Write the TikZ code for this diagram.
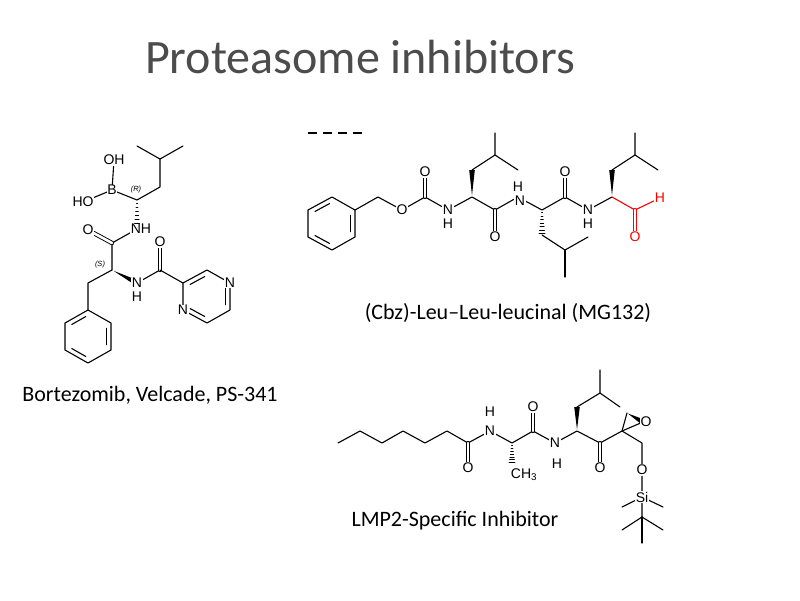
\documentclass[tikz,border=0pt]{standalone}
\usepackage{fontspec}
\setmainfont{Carlito}
\newfontfamily\arl{Liberation Sans}
\usetikzlibrary{calc}
\tikzset{
  bd/.style={line width=1.1pt, line cap=round, line join=round},
  db/.style={draw=black, double=white, double distance=2.6pt, line width=0.9pt},
  atm/.style={fill=white, inner sep=0.6pt, font=\arl\fontsize{14}{14}\selectfont},
  small/.style={inner sep=0pt, font=\arl\itshape\fontsize{7.5}{7.5}\selectfont},
  lab/.style={font=\fontsize{22}{24}\selectfont},
}
\newcommand\wdg[2]{\fill ($(#1)!0.06!(#2)$) -- ($(#2)!2.8pt!90:(#1)$) -- ($(#2)!2.8pt!-90:(#1)$) -- cycle;}
\newcommand\hsh[2]{\foreach \t in {0.1,0.24,...,0.95}{\pgfmathsetmacro\w{0.3+\t*2.8}
  \path coordinate (hp) at ($(#1)!\t!(#2)$);
  \draw[line width=0.7pt] ($(hp)!\w pt!90:(#2)$) -- ($(hp)!\w pt!-90:(#2)$);}}
\newcommand\inb[3]{\draw ($($(#1)!0.2!(#3)$)!0.12!($(#2)!0.2!(#3)$)$) -- ($($(#2)!0.2!(#3)$)!0.12!($(#1)!0.2!(#3)$)$);}
\begin{document}
\begin{tikzpicture}[x=1pt,y=-1pt]
\fill[white] (0,0) rectangle (800,600);
\node[font=\fontsize{48}{50}\selectfont, text=black!70] (title) at (360,57) {Proteasome inhibitors};

% ---------- Bortezomib ----------
\begin{scope}[bd]
\coordinate (b1) at (137,146); \coordinate (b2) at (160,159); \coordinate (b3) at (183,146);
\coordinate (b4) at (160,187); \coordinate (CR) at (137,200); \coordinate (B) at (112,190);
\coordinate (OH1) at (114,160); \coordinate (OH2) at (83,202);
\coordinate (N1) at (137,229); \coordinate (C1) at (112,243); \coordinate (O1) at (88,230);
\coordinate (CS) at (112,270); \coordinate (N2) at (137,283); \coordinate (C2) at (160,270);
\coordinate (O2) at (160,242); \coordinate (CH2) at (88,283);
\draw (b1)--(b2)--(b3); \draw (b2)--(b4)--(CR)--(B);
\draw (B)--(OH1); \draw (B)--(OH2);
\hsh{CR}{N1}
\draw (N1)--(C1)--(CS); \draw[db] (C1)--(O1);
\wdg{CS}{N2}
\draw (N2)--(C2); \draw[db] (C2)--(O2);
\draw (CS)--(CH2)--(88,310);
% pyrazine
\coordinate (p1) at (183,283); \coordinate (p2) at (207,270); \coordinate (p3) at (230,283);
\coordinate (p4) at (230,310); \coordinate (p5) at (207,323); \coordinate (p6) at (183,310);
\coordinate (pc) at (207,296.5);
\draw (C2)--(p1);
\draw (p1)--(p2)--(p3)--(p4)--(p5)--(p6)--cycle;
\inb{p1}{p2}{pc} \inb{p3}{p4}{pc} \inb{p5}{p6}{pc}
% phenyl
\coordinate (h1) at (88,310); \coordinate (h2) at (111,323); \coordinate (h3) at (111,350);
\coordinate (h4) at (88,363); \coordinate (h5) at (65,350); \coordinate (h6) at (65,323);
\coordinate (hc) at (88,336.5);
\draw (h1)--(h2)--(h3)--(h4)--(h5)--(h6)--cycle;
\inb{h2}{h3}{hc} \inb{h4}{h5}{hc} \inb{h6}{h1}{hc}
\end{scope}
\node[atm] (lB) at (B) {B};
\node[atm] (lOH1) at (OH1) {OH};
\node[atm] (lOH2) at (OH2) {HO};
\node[atm] (lN1) at (141,229) {NH};
\node[atm] (lO1) at (O1) {O};
\node[atm] (lN2) at (N2) {N};
\node[atm, fill=none] (lH2) at (137,297) {H};
\node[atm] (lO2) at (O2) {O};
\node[atm] (lNp3) at (p3) {N};
\node[atm] (lNp6) at (p6) {N};
\node[small] (lR) at (136,190) {(R)};
\node[small] (lS) at (100,265) {(S)};
\node[lab] (nameB) at (150,395) {Bortezomib, Velcade, PS-341};

% ---------- MG132 ----------
\draw[line width=1.3pt, dash pattern=on 9pt off 6pt] (308,133)--(365,133);
\begin{scope}[bd]
\coordinate (m1) at (332,197); \coordinate (m2) at (355,210); \coordinate (m3) at (355,237);
\coordinate (m4) at (332,250); \coordinate (m5) at (308,237); \coordinate (m6) at (308,210);
\coordinate (mcc) at (331.5,223.5);
\draw (m1)--(m2)--(m3)--(m4)--(m5)--(m6)--cycle;
\inb{m2}{m3}{mcc} \inb{m4}{m5}{mcc} \inb{m6}{m1}{mcc}
\coordinate (mc) at (378,197); \coordinate (mO) at (402,210); \coordinate (mC1) at (425,197);
\coordinate (mO1) at (425,172); \coordinate (mN1) at (448,210); \coordinate (mA1) at (472,197);
\coordinate (mA1s) at (472,170); \coordinate (mA1b) at (495,155);
\coordinate (mC2) at (495,210); \coordinate (mO2) at (495,237); \coordinate (mN2) at (518,197);
\coordinate (mA2) at (542,210); \coordinate (mA2s) at (542,235); \coordinate (mA2b) at (565,250);
\coordinate (mC3) at (565,197); \coordinate (mO3) at (565,172); \coordinate (mN3) at (588,210);
\coordinate (mA3) at (612,197); \coordinate (mA3s) at (612,170); \coordinate (mA3b) at (635,155);
\coordinate (mC4) at (635,210); \coordinate (mO4) at (635,237); \coordinate (mH4) at (660,198);
\draw (m2)--(mc)--(mO)--(mC1)--(mN1)--(mA1)--(mC2)--(mN2)--(mA2)--(mC3)--(mN3)--(mA3);
\draw[db] (mC1)--(mO1); \draw[db] (mC2)--(mO2); \draw[db] (mC3)--(mO3);
\wdg{mA1}{mA1s} \draw (mA1s)--(mA1b)--(495,133); \draw (mA1b)--(518,170);
\hsh{mA2}{mA2s} \draw (mA2s)--(mA2b)--(588,237); \draw (mA2b)--(565,277);
\wdg{mA3}{mA3s} \draw (mA3s)--(mA3b)--(635,133); \draw (mA3b)--(658,170);
\draw[red] (mA3)--(mC4)--(mH4);
\draw[db, draw=red] (mC4)--(mO4);
\end{scope}
\node[atm] (lmO) at (mO) {O};
\node[atm] (lmO1) at (mO1) {O};
\node[atm] (lmN1) at (mN1) {N};
\node[atm, fill=none] (lmH1) at (448,224) {H};
\node[atm] (lmO2) at (mO2) {O};
\node[atm] (lmN2) at (520,201) {N};
\node[atm, fill=none] (lmH2) at (518,187) {H};
\node[atm] (lmO3) at (mO3) {O};
\node[atm] (lmN3) at (mN3) {N};
\node[atm, fill=none] (lmH3) at (588,224) {H};
\node[atm, text=red] (lmO4) at (mO4) {O};
\node[atm, text=red] (lmH4) at (mH4) {H};
\node[lab] (nameM) at (508,313) {(Cbz)-Leu--Leu-leucinal (MG132)};

% ---------- LMP2 ----------
\begin{scope}[bd]
\coordinate (l1) at (338,443); \coordinate (l2) at (360,431); \coordinate (l3) at (382,443);
\coordinate (l4) at (403,431); \coordinate (l5) at (425,443); \coordinate (l6) at (447,431);
\coordinate (lC1) at (468,443); \coordinate (lO1) at (468,468); \coordinate (lN1) at (490,431);
\coordinate (lA1) at (512,443); \coordinate (lMe) at (512,464); \coordinate (lC2) at (533,431);
\coordinate (lO2) at (533,407); \coordinate (lN2) at (555,443); \coordinate (lA2) at (577,431);
\coordinate (lA2s) at (577,407); \coordinate (lA2b) at (600,393); \coordinate (lC3) at (600,443);
\coordinate (lO3) at (600,468); \coordinate (lE) at (622,431); \coordinate (lEc) at (627,413);
\coordinate (lEo) at (643,422); \coordinate (lM) at (642,443); \coordinate (lO4) at (642,470);
\coordinate (lSi) at (642,497); \coordinate (lT) at (642,517);
\draw (l1)--(l2)--(l3)--(l4)--(l5)--(l6)--(lC1)--(lN1)--(lA1)--(lC2)--(lN2)--(lA2)--(lC3)--(lE)--(lM)--(lO4)--(lSi)--(lT);
\draw[db] (lC1)--(lO1); \draw[db] (lC2)--(lO2); \draw[db] (lC3)--(lO3);
\hsh{lA1}{lMe}
\wdg{lA2}{lA2s} \draw (lA2s)--(lA2b)--(600,370); \draw (lA2b)--(620,407);
\draw (lE)--(lEc); \wdg{lEc}{lEo} \draw (lE)--(lEo);
\draw (lSi)--(622,507); \draw (lSi)--(663,507);
\draw (lT)--(622,530); \draw (lT)--(663,530); \draw (lT)--(642,543);
\end{scope}
\node[atm] (llO1) at (lO1) {O};
\node[atm] (llN1) at (lN1) {N};
\node[atm, fill=none] (llH1) at (490,412) {H};
\node[atm] (llMe) at (524,475) {CH\textsubscript{3}};
\node[atm] (llO2) at (lO2) {O};
\node[atm] (llN2) at (lN2) {N};
\node[atm, fill=none] (llH2) at (557,464) {H};
\node[atm] (llO3) at (lO3) {O};
\node[atm] (llEo) at (646,422) {O};
\node[atm] (llO4) at (lO4) {O};
\node[atm] (llSi) at (lSi) {Si};
\node[lab] (nameL) at (455,521) {LMP2-Specific Inhibitor};
\end{tikzpicture}
\end{document}
